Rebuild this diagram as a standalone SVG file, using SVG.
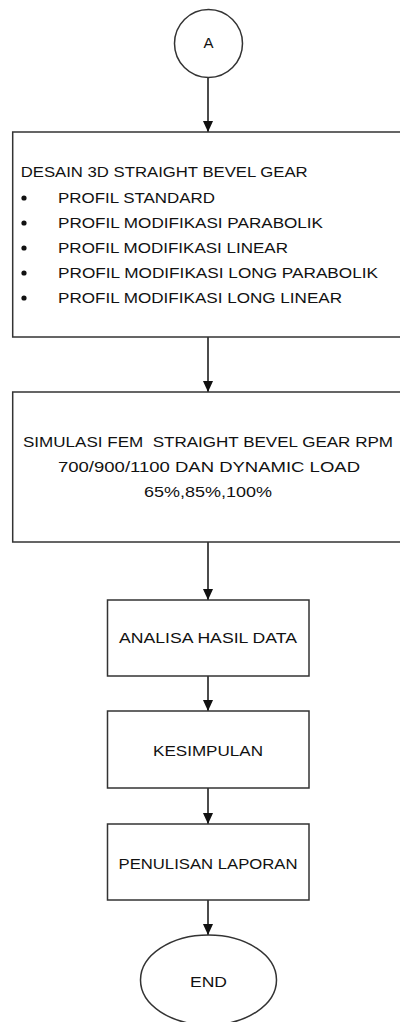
<svg xmlns="http://www.w3.org/2000/svg" width="400" height="1022" viewBox="0 0 400 1022">
<style>
.shape{fill:#fff;stroke:#333;stroke-width:1.5}
.conn{fill:none;stroke:#111;stroke-width:1.5}
text{font-family:"Liberation Sans",Arial,sans-serif;font-size:15px;fill:#111}
.c{text-anchor:middle}
</style>
<defs>
<marker id="ah" markerWidth="11" markerHeight="12" refX="12" refY="5.5" orient="auto" markerUnits="userSpaceOnUse" viewBox="0 0 12 11">
<path d="M0,0 L12,5.5 L0,11 Z" fill="#111"/>
</marker>
</defs>
<rect width="400" height="1022" fill="#fff"/>
<g id="connectors">
<line class="conn" x1="208" y1="77" x2="208" y2="132" marker-end="url(#ah)"/>
<line class="conn" x1="208" y1="337" x2="208" y2="392" marker-end="url(#ah)"/>
<line class="conn" x1="208" y1="542" x2="208" y2="600" marker-end="url(#ah)"/>
<line class="conn" x1="208" y1="676" x2="208" y2="711" marker-end="url(#ah)"/>
<line class="conn" x1="208" y1="788" x2="208" y2="824" marker-end="url(#ah)"/>
<line class="conn" x1="208" y1="900" x2="208" y2="935" marker-end="url(#ah)"/>
</g>
<g id="nodeA">
<circle class="shape" cx="208.5" cy="43.5" r="34"/>
<text class="c" x="208.5" y="48">A</text>
</g>
<g id="desain">
<rect class="shape" x="12.7" y="132" width="395" height="205"/>
<text x="20.7" y="177" textLength="287" lengthAdjust="spacingAndGlyphs">DESAIN 3D STRAIGHT BEVEL GEAR</text>
<circle cx="24" cy="198" r="2.6" fill="#111"/>
<circle cx="24" cy="223" r="2.6" fill="#111"/>
<circle cx="24" cy="248" r="2.6" fill="#111"/>
<circle cx="24" cy="273" r="2.6" fill="#111"/>
<circle cx="24" cy="298" r="2.6" fill="#111"/>
<text x="58" y="202.7" textLength="157" lengthAdjust="spacingAndGlyphs">PROFIL STANDARD</text>
<text x="58" y="227.7" textLength="265" lengthAdjust="spacingAndGlyphs">PROFIL MODIFIKASI PARABOLIK</text>
<text x="58" y="252.7" textLength="230" lengthAdjust="spacingAndGlyphs">PROFIL MODIFIKASI LINEAR</text>
<text x="58" y="277.7" textLength="320" lengthAdjust="spacingAndGlyphs">PROFIL MODIFIKASI LONG PARABOLIK</text>
<text x="58" y="302.7" textLength="284" lengthAdjust="spacingAndGlyphs">PROFIL MODIFIKASI LONG LINEAR</text>
</g>
<g id="simulasi">
<rect class="shape" x="12.7" y="392" width="395" height="150"/>
<text class="c" x="208" y="446.7" textLength="370" lengthAdjust="spacingAndGlyphs" style="white-space:pre">SIMULASI FEM  STRAIGHT BEVEL GEAR RPM</text>
<text class="c" x="209" y="471.7" textLength="302" lengthAdjust="spacingAndGlyphs">700/900/1100 DAN DYNAMIC LOAD</text>
<text class="c" x="208" y="497" textLength="128" lengthAdjust="spacingAndGlyphs">65%,85%,100%</text>
</g>
<g id="analisa">
<rect class="shape" x="107.5" y="600" width="201.5" height="76"/>
<text class="c" x="208" y="643.3" textLength="178" lengthAdjust="spacingAndGlyphs">ANALISA HASIL DATA</text>
</g>
<g id="kesimpulan">
<rect class="shape" x="107.5" y="711" width="201.5" height="77"/>
<text class="c" x="208" y="756" textLength="110" lengthAdjust="spacingAndGlyphs">KESIMPULAN</text>
</g>
<g id="penulisan">
<rect class="shape" x="107.5" y="824" width="201.5" height="76"/>
<text class="c" x="208" y="869" textLength="179" lengthAdjust="spacingAndGlyphs">PENULISAN LAPORAN</text>
</g>
<g id="end">
<ellipse class="shape" cx="208.5" cy="980" rx="68" ry="45"/>
<text class="c" x="208.5" y="986.7" textLength="37" lengthAdjust="spacingAndGlyphs">END</text>
</g>
</svg>
